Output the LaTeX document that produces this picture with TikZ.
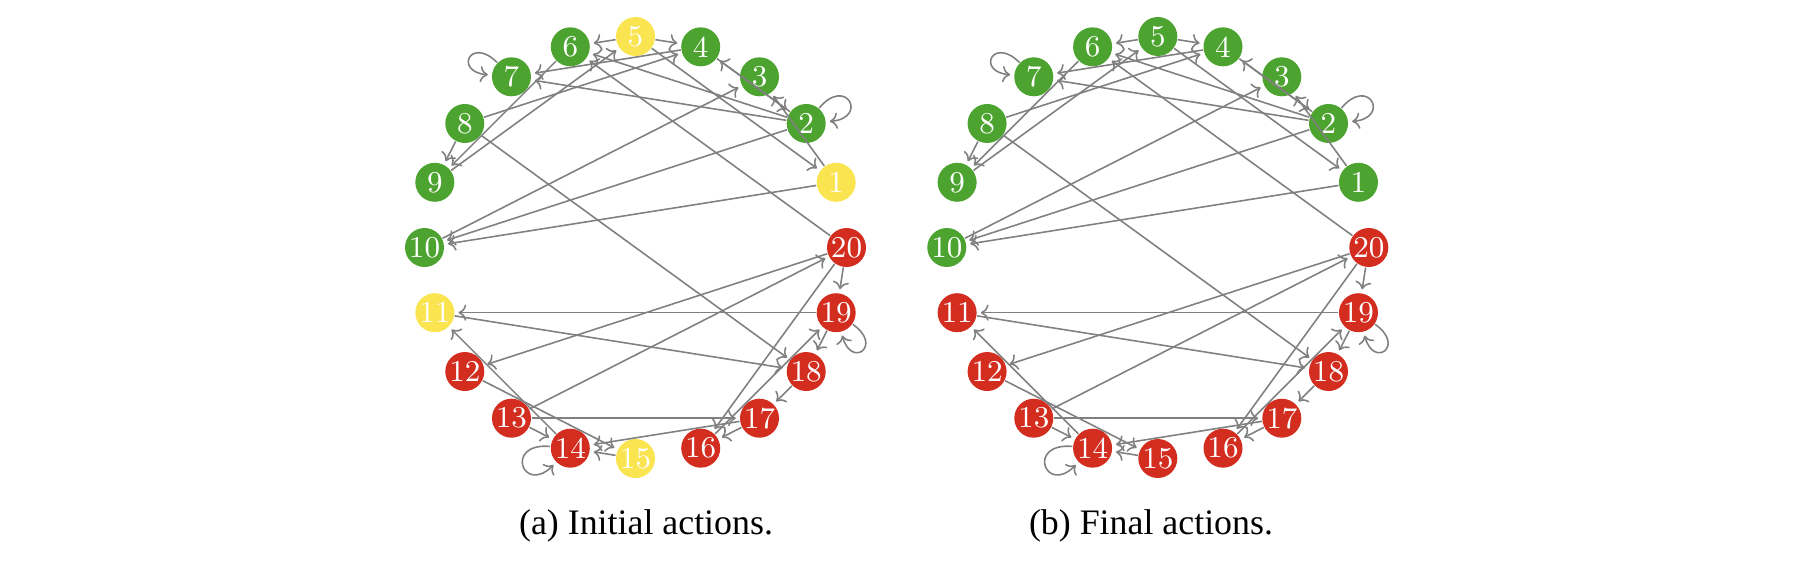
\documentclass[tikz,border=0pt]{standalone}
\usepackage{fontspec}
\newfontfamily\capfont{Liberation Serif}
\usetikzlibrary{calc,arrows.meta}

\definecolor{actgreen}{RGB}{77,163,48}
\definecolor{actyellow}{RGB}{250,228,80}
\definecolor{actred}{RGB}{211,45,32}

\begin{document}
\begin{tikzpicture}[shorten >=1pt,>={To[length=2.2pt,width=4.6pt]},
    agent/.style={circle,inner sep=0pt,minimum size=3.9mm,text=white,
      font=\fontsize{8.6}{9}\selectfont},
    link/.style={draw=gray,line width=0.45pt},
    selfloop/.style={loop,min distance=2.6mm,looseness=7},
    caption/.style={anchor=base,font=\capfont\fontsize{10.2}{12}\selectfont}]
  \useasboundingbox (0,0) rectangle (18.06,5.62);
  \coordinate (ca) at (6.355,3.145);
  \coordinate (cb) at (11.578,3.145);

  % initial actions
  \foreach \i/\c in {1/actyellow,2/actgreen,3/actgreen,4/actgreen,5/actyellow,
      6/actgreen,7/actgreen,8/actgreen,9/actgreen,10/actgreen,11/actyellow,
      12/actred,13/actred,14/actred,15/actyellow,16/actred,17/actred,
      18/actred,19/actred,20/actred}
    \node[agent,fill=\c] (a\i) at ($(ca)+(18*\i:2.11)$) {\i};

  % final actions
  \foreach \i in {1,...,10}
    \node[agent,fill=actgreen] (b\i) at ($(cb)+(18*\i:2.11)$) {\i};
  \foreach \i in {11,...,20}
    \node[agent,fill=actred] (b\i) at ($(cb)+(18*\i:2.11)$) {\i};

  \foreach \p in {a,b} {
    \path[->,link]
    (\p7) edge[selfloop,out=135,in=175] (\p7)
    (\p2) edge[selfloop,out=50,in=5] (\p2)
    (\p19) edge[selfloop,out=-35,in=-75] (\p19)
    (\p14) edge[selfloop,out=175,in=225] (\p14)
    (\p5) edge (\p6)
    (\p5) edge (\p4)
    (\p5) edge (\p1)
    (\p9) edge (\p5)
    (\p6) edge (\p9)
    (\p8) edge (\p9)
    (\p8) edge (\p4)
    (\p8) edge (\p18)
    (\p4) edge (\p7)
    (\p2) edge (\p7)
    (\p2) edge (\p6)
    (\p20) edge (\p6)
    (\p4) edge (\p2)
    (\p2) edge (\p4)
    (\p1) edge (\p3)
    (\p10) edge (\p3)
    (\p2) edge (\p10)
    (\p1) edge (\p10)
    (\p20) edge (\p19)
    (\p20) edge (\p12)
    (\p13) edge (\p20)
    (\p20) edge (\p16)
    (\p19) edge (\p11)
    (\p19) edge (\p18)
    (\p16) edge (\p19)
    (\p11) edge (\p18)
    (\p18) edge (\p17)
    (\p13) edge (\p17)
    (\p17) edge (\p16)
    (\p13) edge (\p14)
    (\p14) edge (\p11)
    (\p12) edge (\p15)
    (\p15) edge (\p14)
    (\p17) edge (\p14);
  }

  \node[caption] (capa) at (6.46,0.28) {(a) Initial actions.};
  \node[caption] (capb) at (11.51,0.28) {(b) Final actions.};
\end{tikzpicture}
\end{document}
